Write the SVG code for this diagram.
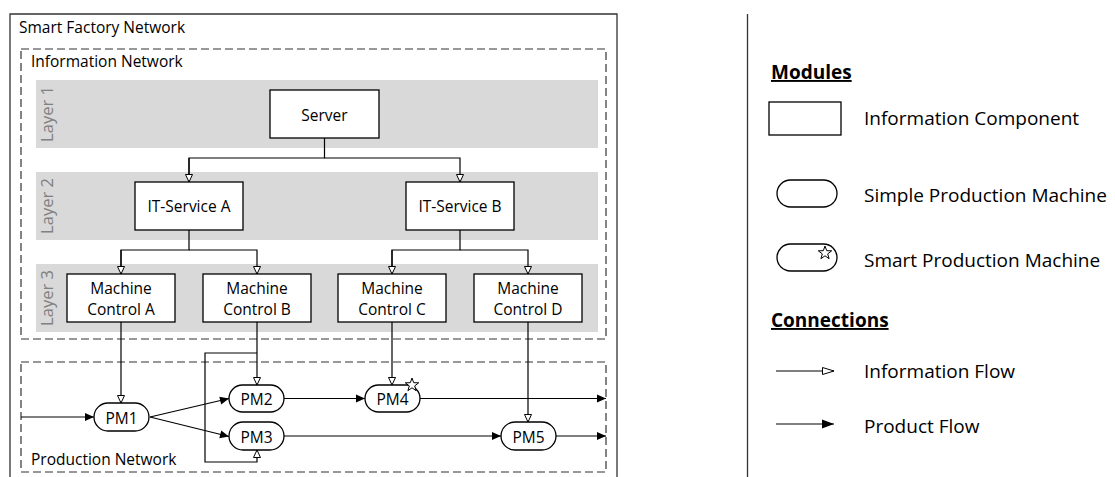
<svg xmlns="http://www.w3.org/2000/svg" width="1115" height="477" viewBox="0 0 1115 477">
  <style>
    text { font-family: "Open Sans", "Liberation Sans", sans-serif; fill: #000; }
    .lbl { font-size: 15.5px; }
    .node { font-size: 15.5px; text-anchor: middle; }
    .layer { font-size: 16.5px; fill: #808080; text-anchor: middle; }
    .leg { font-size: 19px; }
    .head { font-size: 19px; font-weight: bold; text-decoration: underline; }
    .box { fill: #fff; stroke: #000; stroke-width: 1.3; }
    .band { fill: #d9d9d9; }
    .dash { fill: none; stroke: #333; stroke-width: 1.2; stroke-dasharray: 8 4; }
    .frame { fill: none; stroke: #333; stroke-width: 1.3; }
    .info { fill: none; stroke: #000; stroke-width: 1.2; marker-end: url(#open); }
    .prod { fill: none; stroke: #000; stroke-width: 1.2; marker-end: url(#solid); }
    .line { fill: none; stroke: #000; stroke-width: 1.2; }
    .star { fill: #fff; stroke: #000; stroke-width: 1; }
  </style>
  <defs>
    <marker id="open" markerUnits="userSpaceOnUse" markerWidth="10" markerHeight="10" refX="8" refY="4" orient="auto" overflow="visible">
      <path d="M0.5,0.5 L8,4 L0.5,7.5 Z" fill="#fff" stroke="#000" stroke-width="1"/>
    </marker>
    <marker id="solid" markerUnits="userSpaceOnUse" markerWidth="10" markerHeight="10" refX="9" refY="4" orient="auto" overflow="visible">
      <path d="M0,0 L9,4 L0,8 Z" fill="#000"/>
    </marker>
    <marker id="openLeg" markerUnits="userSpaceOnUse" markerWidth="14" markerHeight="10" refX="12" refY="4" orient="auto" overflow="visible">
      <path d="M0.5,0.5 L12,4 L0.5,7.5 Z" fill="#fff" stroke="#000" stroke-width="1"/>
    </marker>
    <marker id="solidLeg" markerUnits="userSpaceOnUse" markerWidth="14" markerHeight="10" refX="12" refY="4.5" orient="auto" overflow="visible">
      <path d="M0,0 L12,4.5 L0,9 Z" fill="#000"/>
    </marker>
    <polygon id="starShape" points="0,-7 1.7,-2.3 6.7,-2.2 2.7,0.9 4.1,5.7 0,2.8 -4.1,5.7 -2.7,0.9 -6.7,-2.2 -1.7,-2.3"/>
  </defs>

  <!-- outer frame and legend divider -->
  <g id="smart-factory">
    <path class="frame" d="M10,477 V14 H617 V477"/>
    <text class="lbl" x="19" y="33">Smart Factory Network</text>
  </g>
  <line class="frame" x1="747.5" y1="14" x2="747.5" y2="477"/>

  <!-- information network -->
  <g id="information-network">
    <rect class="dash" x="21" y="49" width="585" height="290"/>
    <text class="lbl" x="31" y="67">Information Network</text>
  </g>

  <g id="layers">
    <rect class="band" x="36" y="80" width="562" height="68"/>
    <rect class="band" x="36" y="172" width="562" height="68"/>
    <rect class="band" x="36" y="264" width="562" height="68"/>
    <text class="layer" transform="translate(53,114) rotate(-90)">Layer 1</text>
    <text class="layer" transform="translate(53,206) rotate(-90)">Layer 2</text>
    <text class="layer" transform="translate(53,298) rotate(-90)">Layer 3</text>
  </g>

  <!-- production network -->
  <g id="production-network">
    <rect class="dash" x="21" y="362" width="585" height="110"/>
    <text class="lbl" x="31" y="465">Production Network</text>
  </g>

  <!-- connectors -->
  <g id="connectors">
    <!-- information flow -->
    <path class="line" d="M324.5,138 V158 H189 V181"/>
    <path class="info" d="M324.5,158 H460 V182"/>
    <path class="info" d="M189,158 V182"/>
    <path class="line" d="M189,230 V250 H121 V273"/>
    <path class="info" d="M189,250 H257 V274"/>
    <path class="info" d="M121,250 V274"/>
    <path class="line" d="M460,230 V250 H392 V273"/>
    <path class="info" d="M460,250 H528 V274"/>
    <path class="info" d="M392,250 V274"/>
    <path class="info" d="M121,322 V403"/>
    <path class="info" d="M257,322 V385"/>
    <path class="info" d="M257,353 H205 V462 H257 V450"/>
    <path class="info" d="M392,322 V385"/>
    <path class="info" d="M528,322 V422"/>
    <!-- product flow -->
    <path class="prod" d="M21,417 H94"/>
    <path class="prod" d="M150,417 L229,398.5"/>
    <path class="prod" d="M150,417 L229,436.5"/>
    <path class="prod" d="M284,398.5 H365"/>
    <path class="prod" d="M420,398.5 H606"/>
    <path class="prod" d="M284,436 H501"/>
    <path class="prod" d="M556,436 H606"/>
  </g>

  <!-- information components -->
  <g id="server">
    <rect class="box" x="270" y="90" width="109" height="48"/>
    <text class="node" x="324.5" y="120.5">Server</text>
  </g>
  <g id="it-service-a">
    <rect class="box" x="135" y="182" width="108" height="48"/>
    <text class="node" x="189" y="212">IT-Service A</text>
  </g>
  <g id="it-service-b">
    <rect class="box" x="406" y="182" width="108" height="48"/>
    <text class="node" x="460" y="212">IT-Service B</text>
  </g>
  <g id="machine-control-a">
    <rect class="box" x="67" y="274" width="108" height="48"/>
    <text class="node" x="121" y="294">Machine</text>
    <text class="node" x="121" y="315">Control A</text>
  </g>
  <g id="machine-control-b">
    <rect class="box" x="203" y="274" width="108" height="48"/>
    <text class="node" x="257" y="294">Machine</text>
    <text class="node" x="257" y="315">Control B</text>
  </g>
  <g id="machine-control-c">
    <rect class="box" x="338" y="274" width="108" height="48"/>
    <text class="node" x="392" y="294">Machine</text>
    <text class="node" x="392" y="315">Control C</text>
  </g>
  <g id="machine-control-d">
    <rect class="box" x="474" y="274" width="108" height="48"/>
    <text class="node" x="528" y="294">Machine</text>
    <text class="node" x="528" y="315">Control D</text>
  </g>

  <!-- production machines -->
  <g id="pm1">
    <rect class="box" x="94" y="403" width="55" height="28" rx="14"/>
    <text class="node" x="121.5" y="423.5">PM1</text>
  </g>
  <g id="pm2">
    <rect class="box" x="229" y="385" width="55" height="27" rx="13.5"/>
    <text class="node" x="256.5" y="405">PM2</text>
  </g>
  <g id="pm3">
    <rect class="box" x="229" y="422" width="55" height="28" rx="14"/>
    <text class="node" x="256.5" y="442.5">PM3</text>
  </g>
  <g id="pm4">
    <rect class="box" x="365" y="385" width="55" height="27" rx="13.5"/>
    <text class="node" x="392.5" y="405">PM4</text>
    <use href="#starShape" class="star" x="412" y="385"/>
  </g>
  <g id="pm5">
    <rect class="box" x="501" y="422" width="55" height="28" rx="14"/>
    <text class="node" x="528.5" y="442.5">PM5</text>
  </g>

  <!-- legend -->
  <g id="legend">
    <text class="head" x="771" y="79">Modules</text>
    <rect class="box" x="769" y="102" width="72" height="33"/>
    <text class="leg" x="864" y="125">Information Component</text>
    <rect class="box" x="777" y="180" width="60" height="27" rx="13.5"/>
    <text class="leg" x="864" y="202">Simple Production Machine</text>
    <rect class="box" x="777" y="244" width="60" height="27" rx="13.5"/>
    <use href="#starShape" class="star" x="825" y="253"/>
    <text class="leg" x="864" y="267">Smart Production Machine</text>
    <text class="head" x="771" y="327">Connections</text>
    <path class="line" d="M776,371 H834" marker-end="url(#openLeg)"/>
    <text class="leg" x="864" y="378">Information Flow</text>
    <path class="line" d="M776,424 H834" marker-end="url(#solidLeg)"/>
    <text class="leg" x="864" y="433">Product Flow</text>
  </g>
</svg>
